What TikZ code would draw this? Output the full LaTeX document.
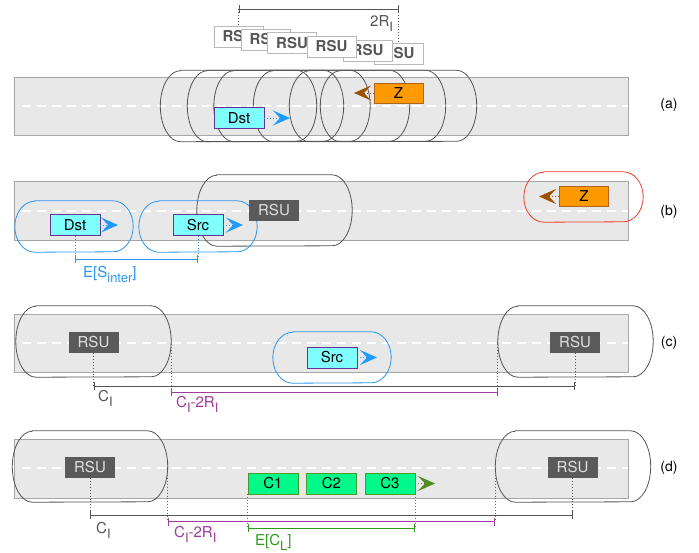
\documentclass[tikz,border=0pt]{standalone}
\usepackage{fontspec}
\setmainfont{TeX Gyre Heros}
\usepackage{xcolor}
\usepackage{tikz}
\usetikzlibrary{arrows.meta,calc}
\definecolor{roadfill}{HTML}{E8E8E8}
\definecolor{covgray}{HTML}{555555}
\definecolor{rsudark}{HTML}{5A5A5A}
\definecolor{vehcyan}{HTML}{80FFFF}
\definecolor{vehedge}{HTML}{663399}
\definecolor{zorange}{HTML}{FF9900}
\definecolor{zedge}{HTML}{B0651E}
\definecolor{zbrown}{HTML}{9C5200}
\definecolor{arrblue}{HTML}{1E9BFF}
\definecolor{covblue}{HTML}{2A95F0}
\definecolor{covred}{HTML}{EE3B2B}
\definecolor{cgreen}{HTML}{00FA8A}
\definecolor{cedge}{HTML}{4C9A2A}
\definecolor{carr}{HTML}{4C8C1C}
\definecolor{dimpurple}{HTML}{9E3BA0}
\definecolor{dimgreen}{HTML}{2E9A1A}
\definecolor{dimgray}{HTML}{555555}
\newcommand{\lowsub}[1]{\raisebox{-5pt}{\fontsize{13}{13}\selectfont #1}}
% coverage area: name, centre, width, height, colour
\newcommand{\covnode}[5]{%
  \node[inner sep=0pt, minimum width=#3pt, minimum height=#4pt] (#1) at (#2) {};
  \draw[draw=#5, line width=0.8pt] ($(#1.north west)+(20,0)$) -- ($(#1.north east)+(-20,0)$)
    arc[start angle=-90, end angle=90, x radius=20, y radius=#4/2]
    -- ($(#1.south west)+(20,0)$)
    arc[start angle=90, end angle=270, x radius=20, y radius=#4/2] -- cycle;}
\tikzset{
    road/.style={draw=gray!70, fill=roadfill, line width=0.8pt},
    lane/.style={draw=white, line width=2pt, dash pattern=on 9pt off 6pt},
    box/.style={minimum width=50pt, minimum height=21pt, inner sep=0pt, font=\fontsize{15}{17}\selectfont},
    rsu/.style={box, fill=rsudark, text=white!88!black},
    rsuw/.style={box, minimum width=49pt, draw=gray!55, fill=white, text=dimgray, line width=0.8pt, font=\fontsize{15}{17}\selectfont\bfseries},
    veh/.style={box, draw=vehedge, fill=vehcyan, line width=0.9pt},
    zveh/.style={box, minimum width=49pt, minimum height=20pt, draw=zedge, fill=zorange, line width=0.8pt},
    cveh/.style={box, draw=cedge, fill=cgreen, line width=0.9pt},
    move/.style={draw=#1, dotted, line width=1pt, -{Stealth[length=17pt, width=15pt, inset=7pt]}},
    dimbar/.style={line width=1pt, {Bar[width=8pt]}-{Bar[width=8pt]}},
    dimdot/.style={dotted, line width=0.9pt},
    tag/.style={font=\fontsize{14}{16}\selectfont},
    dimtext/.style={anchor=base west, inner sep=0pt, font=\fontsize{15}{17}\selectfont, text=#1}
}
\begin{document}
\begin{tikzpicture}[x=1pt,y=-1pt]
\useasboundingbox (0,0) rectangle (699,552);

% roads
\draw[road] (14,77) rectangle (628,135);
\draw[lane] (22,106) -- (628,106);
\draw[road] (14,181) rectangle (628,240);
\draw[lane] (22,211) -- (628,211);
\draw[road] (14,314) rectangle (628,372);
\draw[lane] (22,343) -- (628,343);
\draw[road] (14,439) rectangle (628,498);
\draw[lane] (22,468) -- (628,468);

\node[tag] (tagA) at (669,105) {(a)};
\node[tag] (tagB) at (669,212) {(b)};
\node[tag] (tagC) at (669,343) {(c)};
\node[tag] (tagD) at (669,468) {(d)};

% (a)
\covnode{covA1}{238.5,106}{156}{71}{covgray}
\covnode{covA2}{265.5,106}{156}{71}{covgray}
\covnode{covA3}{292,106}{156}{71}{covgray}
\covnode{covA4}{331.5,106}{156}{71}{covgray}
\covnode{covA5}{367.5,106}{156}{71}{covgray}
\covnode{covA6}{398.5,106}{156}{71}{covgray}
\coordinate (Pal) at (238.5,9);
\coordinate (Par) at (398.5,9);
\draw[dimgray, dimdot] (Pal) -- (238.5,30);
\draw[dimgray, dimdot] (Par) -- (398.5,46);
\node[rsuw] (rsuA1) at (238.5,36.5) {RSU};
\node[rsuw] (rsuA2) at (265.5,39.5) {RSU};
\node[rsuw] (rsuA3) at (292,43) {RSU};
\node[rsuw] (rsuA6) at (398.5,53.5) {RSU};
\node[rsuw] (rsuA5) at (367.5,50.5) {RSU};
\node[rsuw] (rsuA4) at (331.5,46.5) {RSU};
\draw[dimgray, dimbar] (Pal) -- (Par);
\node[dimtext=dimgray] (lbl2R) at (370,26) {2R\lowsub{I}};
\node[veh] (dstA) at (239,118) {Dst};
\coordinate (dstAh) at (290,118);
\draw[move=arrblue] (dstA) -- (dstAh);
\node[zveh] (zA) at (398.5,93) {Z};
\coordinate (zAh) at (354,93);
\draw[move=zbrown] (zA) -- (zAh);

% (b)
\covnode{covB}{274.5,210.5}{155}{71}{covgray}
\covnode{covBd}{74,226.5}{118}{51}{covblue}
\covnode{covBs}{198,226.5}{118}{51}{covblue}
\covnode{covBz}{583.5,197}{119}{50}{covred}
\node[rsu] (rsuB) at (274,210) {RSU};
\node[veh] (dstB) at (75,225) {Dst};
\coordinate (dstBh) at (118,225);
\draw[move=arrblue] (dstB) -- (dstBh);
\node[veh] (srcB) at (198,225) {Src};
\coordinate (srcBh) at (243,225);
\draw[move=arrblue] (srcB) -- (srcBh);
\node[zveh] (zB) at (584,196.5) {Z};
\coordinate (zBh) at (539,196.5);
\draw[move=zbrown] (zB) -- (zBh);
\coordinate (Sl) at (dstB |- 0,259);
\coordinate (Sr) at (srcB |- 0,259);
\draw[covblue, dimdot] (dstB.south) -- (Sl);
\draw[covblue, dimdot] (srcB.south) -- (Sr);
\draw[covblue, dimbar] (Sl) -- (Sr);
\node[dimtext=covblue] (lblS) at (83,277) {E[S\lowsub{inter}]};

% (c)
\covnode{covCl}{93.5,341.5}{155}{71}{covgray}
\covnode{covCr}{575.5,341.5}{155}{71}{covgray}
\node[rsu] (rsuCl) at (93.5,342.5) {RSU};
\node[rsu] (rsuCr) at (575,342.5) {RSU};
\covnode{covCs}{332,357.5}{118}{51}{covblue}
\node[veh] (srcC) at (332,357.5) {Src};
\coordinate (srcCh) at (377,357.5);
\draw[move=arrblue] (srcC) -- (srcCh);
\coordinate (Cgl) at (rsuCl |- 0,386);
\coordinate (Cgr) at (rsuCr |- 0,386);
\coordinate (Cpl) at (covCl.east |- 0,392);
\coordinate (Cpr) at (covCr.west |- 0,392);
\draw[dimgray, dimdot] (rsuCl.south) -- (Cgl);
\draw[dimgray, dimdot] (rsuCr.south) -- (Cgr);
\draw[dimpurple, dimdot] (covCl.east) -- (Cpl);
\draw[dimpurple, dimdot] (covCr.west) -- (Cpr);
\draw[dimgray, dimbar] (Cgl) -- (Cgr);
\draw[dimpurple, dimbar] (Cpl) -- (Cpr);
\node[dimtext=dimgray] (lblCc) at (98,401.5) {C\lowsub{I}};
\node[dimtext=dimpurple] (lblCp) at (176,407) {C\lowsub{I}-2R\lowsub{I}};

% (d)
\covnode{covDl}{90,466.5}{155}{71}{covgray}
\covnode{covDr}{573,466.5}{155}{71}{covgray}
\node[rsu] (rsuDl) at (90,467.5) {RSU};
\node[rsu] (rsuDr) at (572.5,467.5) {RSU};
\node[cveh] (c1) at (273,483.5) {C1};
\node[cveh] (c2) at (331.5,483.5) {C2};
\node[cveh] (c3) at (390,483.5) {C3};
\coordinate (c3h) at (435,483.5);
\draw[move=carr] (c3) -- (c3h);
\coordinate (Dgl) at (rsuDl |- 0,515);
\coordinate (Dgr) at (rsuDr |- 0,515);
\coordinate (Dpl) at (covDl.east |- 0,521.5);
\coordinate (Dpr) at (covDr.west |- 0,521.5);
\coordinate (Dcl) at (c1.south west |- 0,528);
\coordinate (Dcr) at (c3.south east |- 0,528);
\draw[dimgray, dimdot] (rsuDl.south) -- (Dgl);
\draw[dimgray, dimdot] (rsuDr.south) -- (Dgr);
\draw[dimpurple, dimdot] (covDl.east) -- (Dpl);
\draw[dimpurple, dimdot] (covDr.west) -- (Dpr);
\draw[dimgreen, dimdot] (c1.south west) -- (Dcl);
\draw[dimgreen, dimdot] (c3.south east) -- (Dcr);
\draw[dimgray, dimbar] (Dgl) -- (Dgr);
\draw[dimpurple, dimbar] (Dpl) -- (Dpr);
\draw[dimgreen, dimbar] (Dcl) -- (Dcr);
\node[dimtext=dimgray] (lblDc) at (96,533) {C\lowsub{I}};
\node[dimtext=dimpurple] (lblDp) at (174,537) {C\lowsub{I}-2R\lowsub{I}};
\node[dimtext=dimgreen] (lblDl) at (255,545) {E[C\lowsub{L}]};
\end{tikzpicture}
\end{document}
